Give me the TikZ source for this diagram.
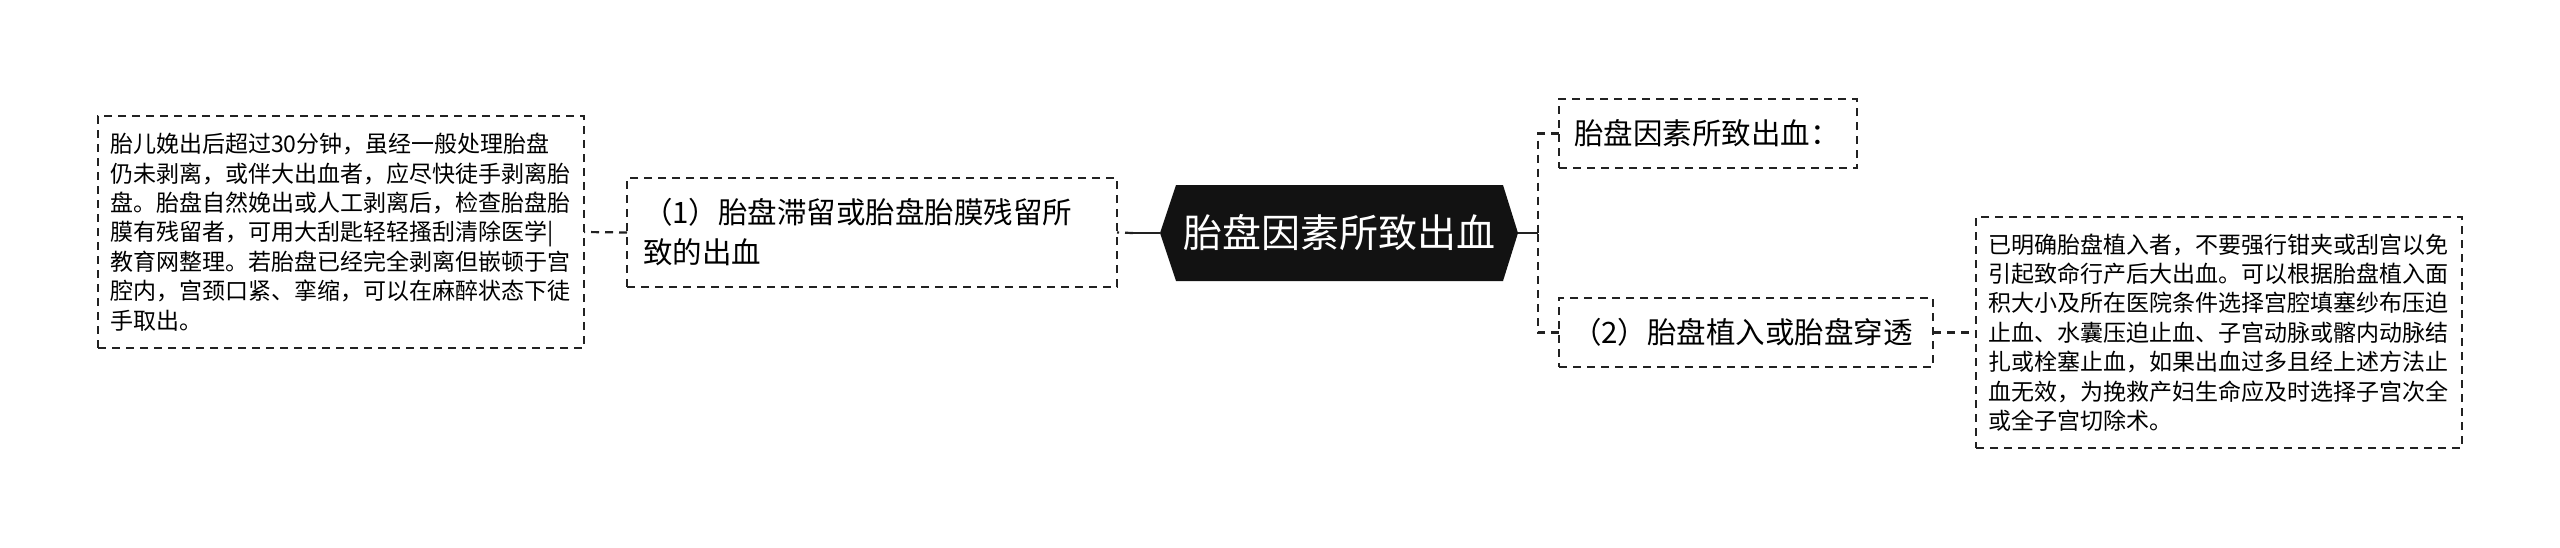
\documentclass[tikz,border=0pt]{standalone}
\usepackage{fontspec}
\newfontfamily\cjk{Noto Sans CJK SC}
\pgfdeclarelayer{bg}
\pgfsetlayers{bg,main}
\definecolor{lc}{HTML}{222222}
\definecolor{hexfill}{HTML}{121212}
\begin{document}
\begin{tikzpicture}[x=1pt,y=-1pt,
  solidline/.style={draw=lc, line width=2.4pt},
  dline/.style={draw=lc, line width=2.2pt, dash pattern=on 8pt off 6pt},
  box/.style={dline, rectangle, inner sep=0pt, outer sep=0pt, align=left, anchor=center},
  smalltext/.style={font=\cjk\fontsize{23}{29.4}\selectfont, text=black},
  midtext/.style={font=\cjk\fontsize{29.5}{40}\selectfont, text=black}
]
\useasboundingbox (0,0) rectangle (2560,547);

% center
\node[inner sep=0pt, outer sep=0pt, minimum width=358pt, minimum height=96pt,
      font=\cjk\fontsize{39}{46}\selectfont, text=white] (c) at (1339,233) {胎盘因素所致出血};
\begin{pgfonlayer}{bg}
\fill[hexfill] (c.west) -- ([xshift=16pt]c.north west) -- ([xshift=-15pt]c.north east)
  -- (c.east) -- ([xshift=-15pt]c.south east) -- ([xshift=16pt]c.south west) -- cycle;
\end{pgfonlayer}

% left branch
\node[box, midtext, minimum width=490pt, minimum height=109pt, text width=458pt] (b1) at (872,232.5)
  {（1）胎盘滞留或胎盘胎膜残留所\\致的出血};
\node[box, smalltext, minimum width=486pt, minimum height=232pt, text width=462pt] (lb) at (341,232)
  {胎儿娩出后超过30分钟，虽经一般处理胎盘\\
   仍未剥离，或伴大出血者，应尽快徒手剥离胎\\
   盘。胎盘自然娩出或人工剥离后，检查胎盘胎\\
   膜有残留者，可用大刮匙轻轻搔刮清除医学|\\
   教育网整理。若胎盘已经完全剥离但嵌顿于宫\\
   腔内，宫颈口紧、挛缩，可以在麻醉状态下徒\\
   手取出。};

% right branch
\node[box, midtext, minimum width=298pt, minimum height=69pt, text width=268pt] (tr) at (1708,133.5)
  {胎盘因素所致出血：};
\node[box, midtext, minimum width=374pt, minimum height=69pt, text width=348pt] (b2) at (1746,332.5)
  {（2）胎盘植入或胎盘穿透};
\node[box, smalltext, minimum width=486pt, minimum height=231pt, text width=462pt] (rb) at (2219,332.5)
  {已明确胎盘植入者，不要强行钳夹或刮宫以免\\
   引起致命行产后大出血。可以根据胎盘植入面\\
   积大小及所在医院条件选择宫腔填塞纱布压迫\\
   止血、水囊压迫止血、子宫动脉或髂内动脉结\\
   扎或栓塞止血，如果出血过多且经上述方法止\\
   血无效，为挽救产妇生命应及时选择子宫次全\\
   或全子宫切除术。};

% connectors
\coordinate (j1) at (1133,233);
\coordinate (j2) at (1538,233);
\draw[solidline] (c.west) -- (j1);
\draw[dline] (j1) -- (b1.east);
\draw[dline] (b1.west) -- (lb.east);
\draw[solidline] (c.east) -- (j2);
\draw[dline] (tr.west) -| (j2);
\draw[dline] (b2.west) -| (j2);
\draw[dline] (b2.east) -- (rb.west);
\end{tikzpicture}
\end{document}
